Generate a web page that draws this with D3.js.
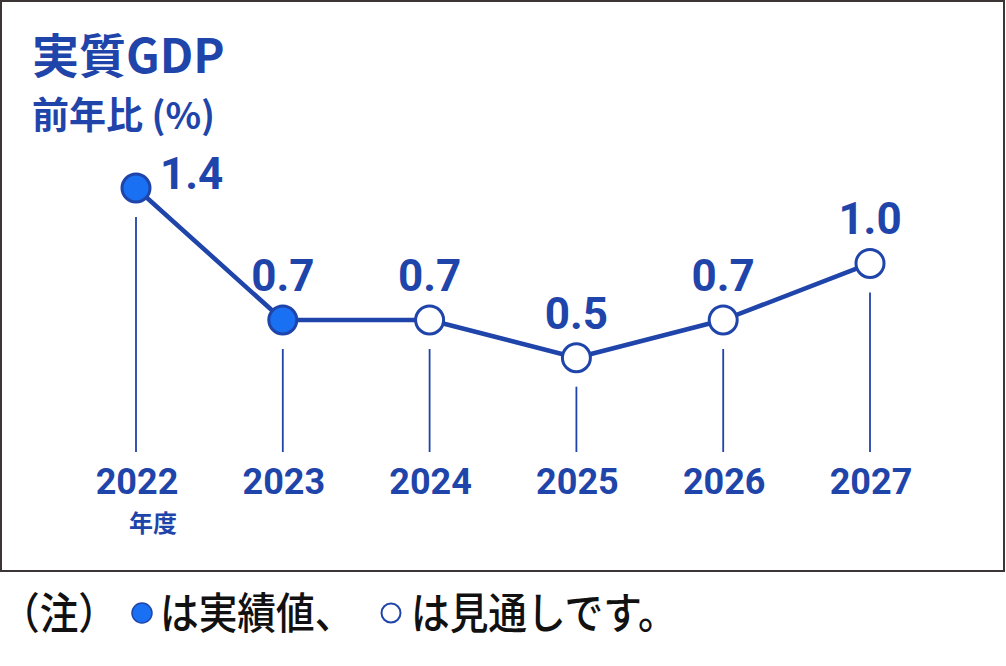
<!DOCTYPE html>
<html>
<head>
<meta charset="utf-8">
<script src="https://cdn.jsdelivr.net/npm/d3@7"></script>
<style>
  html, body { margin: 0; padding: 0; background: #fff; }
  svg { display: block; }
</style>
</head>
<body>
<div id="chart"></div>
<script>
// data
var years = ["2022", "2023", "2024", "2025", "2026", "2027"];
var growth = [1.4, 0.7, 0.7, 0.5, 0.7, 1.0];
var actual = [true, true, false, false, false, false];
var valueLabels = ["1.4", "0.7", "0.7", "0.5", "0.7", "1.0"];

var W = 1006, H = 666;
var navy = "#1f44aa", fillBlue = "#1a70f2";
var cjk = "'Noto Sans CJK JP', 'Noto Sans', sans-serif";
var num = "Roboto, 'Noto Sans', sans-serif";

var svg = d3.select("#chart").append("svg")
	.attr("width", W)
	.attr("height", H);

// frame
svg.append("rect")
	.attr("x", 1).attr("y", 1)
	.attr("width", 1003).attr("height", 570)
	.attr("fill", "#fff")
	.attr("stroke", "#3b3535")
	.attr("stroke-width", 2);

var x = d3.scalePoint().domain(years).range([136, 870]);
var y = d3.scaleLinear().domain([0, 1.4]).range([452, 188]);

var data = years.map(function(d, i) {
	return { year: d, v: growth[i], actual: actual[i], label: valueLabels[i] };
});

// title
svg.append("text")
	.attr("x", 32).attr("y", 73)
	.attr("font-family", cjk).attr("font-weight", 700)
	.attr("font-size", 47).attr("fill", navy)
	.text("実質GDP");
svg.append("text")
	.attr("x", 32).attr("y", 129)
	.attr("font-family", cjk).attr("font-weight", 700)
	.attr("font-size", 37).attr("fill", navy)
	.text("前年比 (%)");

// drop lines from each point down to the baseline
svg.selectAll(".drop").data(data).enter().append("line")
	.attr("class", "drop")
	.attr("x1", function(d) { return x(d.year); })
	.attr("x2", function(d) { return x(d.year); })
	.attr("y1", function(d) { return y(d.v) + 29; })
	.attr("y2", y(0))
	.attr("stroke", navy)
	.attr("stroke-width", 1.8);

// the line
var line = d3.line()
	.x(function(d) { return x(d.year); })
	.y(function(d) { return y(d.v); });

svg.append("path")
	.datum(data)
	.attr("d", line)
	.attr("fill", "none")
	.attr("stroke", navy)
	.attr("stroke-width", 4.5)
	.attr("stroke-linejoin", "round");

// markers
svg.selectAll(".pt").data(data).enter().append("circle")
	.attr("class", "pt")
	.attr("cx", function(d) { return x(d.year); })
	.attr("cy", function(d) { return y(d.v); })
	.attr("r", 14)
	.attr("fill", function(d) { return d.actual ? fillBlue : "#fff"; })
	.attr("stroke", navy)
	.attr("stroke-width", 3);

// value labels (first one sits to the right of its point)
svg.selectAll(".val").data(data).enter().append("text")
	.attr("class", "val")
	.attr("x", function(d, i) { return i == 0 ? x(d.year) + 24 : x(d.year); })
	.attr("y", function(d, i) { return i == 0 ? y(d.v) + 1 : y(d.v) - 29; })
	.attr("text-anchor", function(d, i) { return i == 0 ? "start" : "middle"; })
	.attr("font-family", num).attr("font-weight", 700)
	.attr("font-size", 44).attr("fill", navy)
	.text(function(d) { return d.label; });

// year labels
svg.selectAll(".yr").data(data).enter().append("text")
	.attr("class", "yr")
	.attr("x", function(d) { return x(d.year) + 1; })
	.attr("y", 494)
	.attr("text-anchor", "middle")
	.attr("font-family", num).attr("font-weight", 700)
	.attr("font-size", 36).attr("fill", navy)
	.text(function(d) { return d.year; });

svg.append("text")
	.attr("x", x(years[0]) + 41).attr("y", 532)
	.attr("text-anchor", "end")
	.attr("font-family", cjk).attr("font-weight", 700)
	.attr("font-size", 24).attr("fill", navy)
	.text("年度");

// footnote
var note = svg.append("g").attr("font-family", cjk).attr("font-weight", 500)
	.attr("font-size", 43).attr("fill", "#111");
function noteText(px, s) {
	note.append("text")
		.attr("transform", "translate(" + px + ",629) scale(0.9,1)")
		.text(s);
}
noteText(1, "（注）");
svg.append("circle").attr("cx", 142).attr("cy", 613).attr("r", 10)
	.attr("fill", fillBlue).attr("stroke", navy).attr("stroke-width", 1.5);
noteText(160, "は実績値、");
svg.append("circle").attr("cx", 391).attr("cy", 613).attr("r", 9.5)
	.attr("fill", "#fff").attr("stroke", navy).attr("stroke-width", 2);
noteText(411, "は見通しです。");
</script>
</body>
</html>
